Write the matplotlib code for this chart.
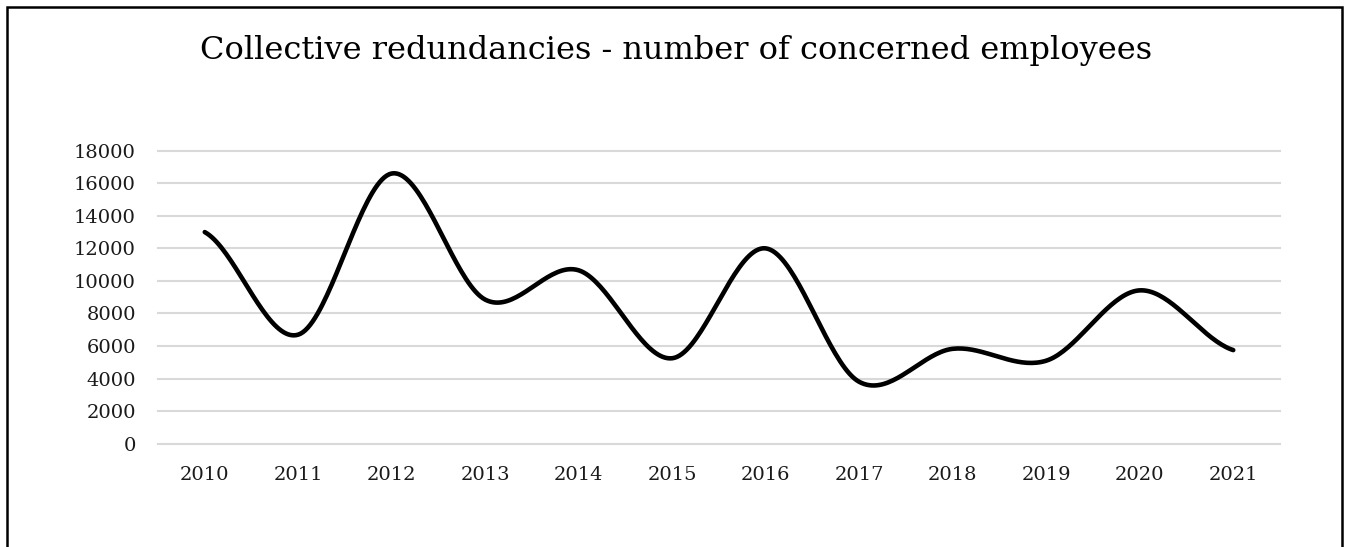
import numpy as np
import matplotlib.pyplot as plt
from matplotlib.patches import Rectangle

# Collective redundancies, employees concerned per year
years = ['2010', '2011', '2012', '2013', '2014', '2015',
         '2016', '2017', '2018', '2019', '2020', '2021']
employees = [13000, 6700, 16600, 8850, 10650, 5250,
             12000, 3800, 5830, 5100, 9420, 5750]
y_ticks = [0, 2000, 4000, 6000, 8000, 10000, 12000, 14000, 16000, 18000]

title = 'Collective redundancies - number of concerned employees'


def smooth_line(values, steps=40):
    """Spreadsheet-style smoothed line (cubic Bezier / Catmull-Rom segments)"""
    v = np.asarray(values, dtype=float)
    n = len(v)
    xs, ys = [], []
    t = np.linspace(0, 1, steps)
    for i in range(n - 1):
        p0 = v[i - 1] if i > 0 else v[i]
        p1, p2 = v[i], v[i + 1]
        p3 = v[i + 2] if i + 2 < n else v[i + 1]
        m1 = (p2 - p0) / 2.0
        m2 = (p3 - p1) / 2.0
        h00 = 2 * t**3 - 3 * t**2 + 1
        h10 = t**3 - 2 * t**2 + t
        h01 = -2 * t**3 + 3 * t**2
        h11 = t**3 - t**2
        xs.append(i + t)
        ys.append(h00 * p1 + h10 * m1 + h01 * p2 + h11 * m2)
    return np.concatenate(xs), np.concatenate(ys)


plt.rcParams['font.family'] = ['DejaVu Serif']

fig = plt.figure(figsize=(13.52, 5.47), dpi=100)
ax = fig.add_axes([158 / 1352, 103.3 / 547, 1122 / 1352, 293 / 547])

sx, sy = smooth_line(employees)
ax.plot(sx, sy, color='black', linewidth=3.3, solid_capstyle='round')

ax.set_xlim(-0.5, len(years) - 0.5)
ax.set_ylim(0, 18000)
ax.set_xticks(range(len(years)))
ax.set_xticklabels(years)
ax.set_yticks(y_ticks)
ax.set_yticklabels([str(v) for v in y_ticks])
ax.tick_params(axis='both', length=0, labelsize=14, colors='#1a1a1a')
ax.tick_params(axis='y', pad=16)
ax.tick_params(axis='x', pad=16)

ax.grid(axis='y', color='#d9d9d9', linewidth=1.5)
for gl in ax.get_ygridlines():
    gl.set_clip_on(False)
ax.set_axisbelow(True)
for side in ['top', 'right', 'left', 'bottom']:
    ax.spines[side].set_visible(False)

fig.text(0.5, 1 - 50 / 547, title, ha='center', va='center',
         fontsize=23, color='black')

# Chart frame, open at the bottom edge
fig.patches.append(Rectangle((6.5 / 1352, -0.1), (1342 - 6.5) / 1352, 1.1 - 7 / 547,
                             transform=fig.transFigure, fill=False,
                             edgecolor='black', linewidth=1.8))

fig.savefig('out.png', dpi=100)
